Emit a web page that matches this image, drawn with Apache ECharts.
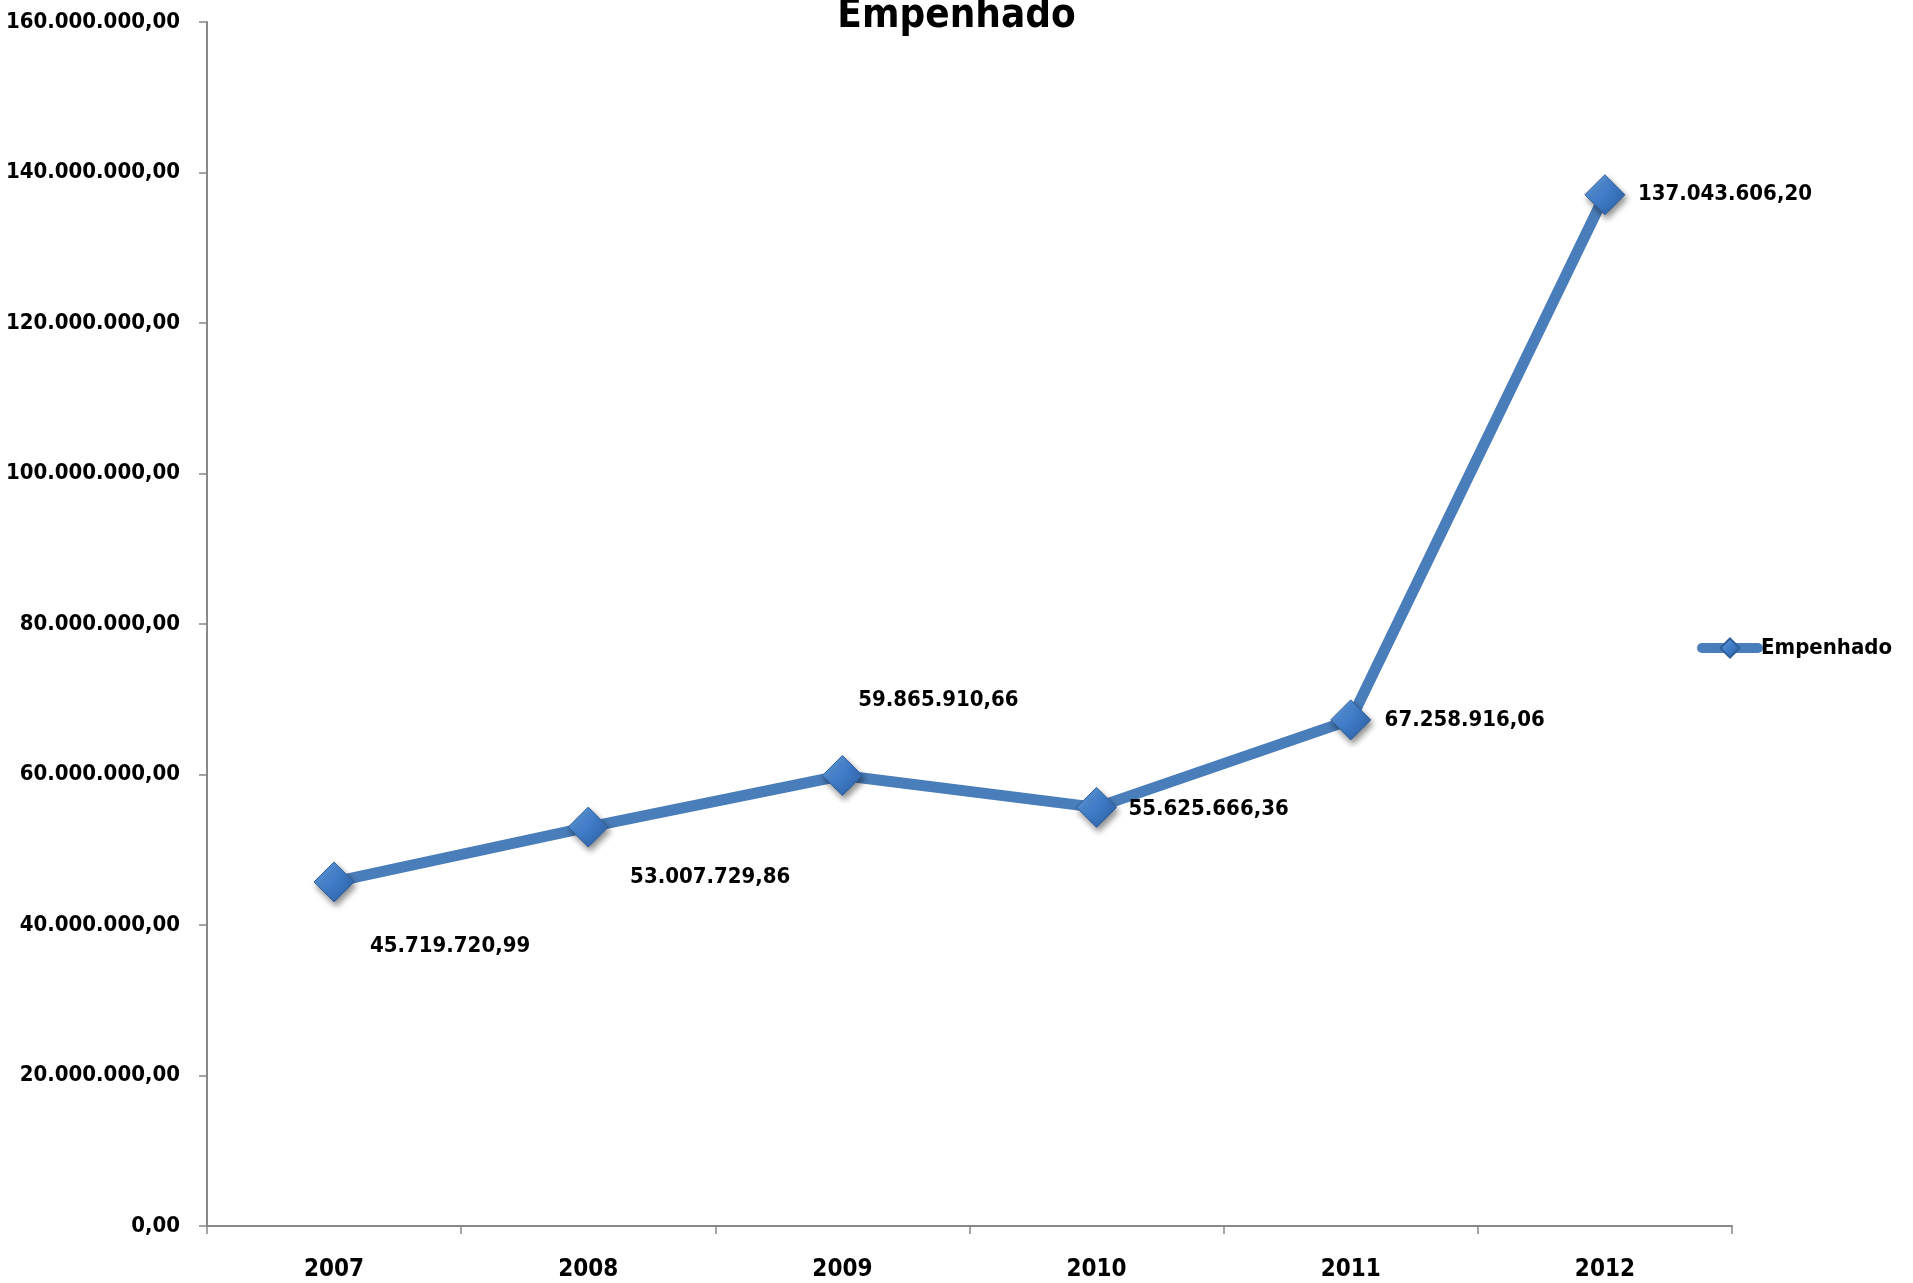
<!DOCTYPE html>
<html><head><meta charset="utf-8">
<script src="https://cdn.jsdelivr.net/npm/echarts@6/dist/echarts.min.js"></script>
<style>html,body{margin:0;padding:0;background:#fff}#c{width:1913px;height:1283px}</style>
</head><body><div id="c"></div>
<script>
const categories = ['2007','2008','2009','2010','2011','2012'];
const empenhado = [45719720.99, 53007729.86, 59865910.66, 55625666.36, 67258916.06, 137043606.20];
const seriesName = 'Empenhado';

const labelOffsets = [[116,64],[122,50],[96,-75],[112,2],[114,0],[120,0]];

function fmtBR(v){
  const parts = v.toFixed(2).split('.');
  const int = parts[0].replace(/\B(?=(\d{3})+(?!\d))/g,'.');
  return int + ',' + parts[1];
}
const FONT = '"DejaVu Sans Condensed", "Liberation Sans Narrow", sans-serif';
const chart = echarts.init(document.getElementById('c'));
const diamondColor = new echarts.graphic.LinearGradient(0,0,1,1,[
  {offset:0,color:'#6aa3e0'},{offset:0.5,color:'#3f7bc8'},{offset:1,color:'#2c5e9e'}]);
chart.setOption({
  animation:false,
  title:{text:'Empenhado', left:'center', top:-8,
    textStyle:{fontFamily:FONT, fontWeight:'bold', fontSize:40, color:'#000'}},
  legend:{left:1692, top:632, itemWidth:56, itemHeight:24, itemGap:4,
    lineStyle:{width:10, cap:'round', color:'#4a7ebb'},
    textStyle:{fontFamily:FONT, fontWeight:'bold', fontSize:22, color:'#000', padding:[0,0,0,-2]},
    data:[{name:seriesName}]},
  grid:{left:207, right:181, top:22, bottom:57, containLabel:false, outerBoundsMode:'none'},
  xAxis:{type:'category', data:categories, boundaryGap:true,
    axisLine:{lineStyle:{color:'#888', width:2}},
    axisTick:{show:true, length:8, lineStyle:{color:'#888', width:1.5}},
    axisLabel:{fontFamily:FONT, fontWeight:'bold', fontSize:24, color:'#000', margin:32}},
  yAxis:{type:'value', min:0, max:160000000, interval:20000000,
    axisLine:{show:true, lineStyle:{color:'#888', width:2}},
    axisTick:{show:true, length:8, lineStyle:{color:'#888', width:1.5}},
    splitLine:{show:false},
    axisLabel:{fontFamily:FONT, fontWeight:'bold', fontSize:22, color:'#000', margin:27,
      formatter:v=>fmtBR(v)}},
  series:[{
    name:seriesName, type:'line', data:empenhado.map((v,i)=>({value:v,
      label:{offset:labelOffsets[i]}})),
    symbol:'diamond', symbolSize:[40,40],
    lineStyle:{color:'#4a7ebb', width:11},
    itemStyle:{color:diamondColor, borderColor:'#2f5f9a', borderWidth:1,
      shadowColor:'rgba(0,0,0,0.45)', shadowBlur:6, shadowOffsetX:2, shadowOffsetY:4},
    label:{show:true, position:'inside', formatter:p=>fmtBR(p.value),
      fontFamily:FONT, fontWeight:'bold', fontSize:22, color:'#000'},
    z:3
  }]
});
</script></body></html>
